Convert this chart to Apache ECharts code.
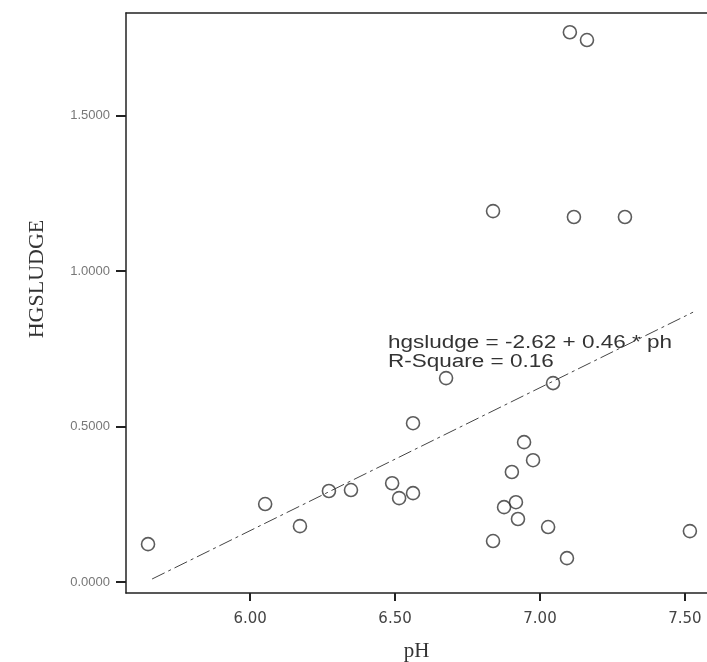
<!DOCTYPE html>
<html>
<head>
<meta charset="utf-8">
<script src="https://cdn.jsdelivr.net/npm/echarts@6/dist/echarts.min.js"></script>
<style>
  html, body { margin: 0; padding: 0; background: #fff; }
  #main { width: 707px; height: 662px; }
</style>
</head>
<body>
<div id="main"></div>
<script>
// 数据
var phValues = [5.648, 6.052, 6.172, 6.272, 6.348, 6.490, 6.514, 6.562, 6.562, 6.676,
                7.045, 6.945, 6.976, 6.903, 6.917, 6.876, 6.924, 7.028, 6.838, 7.093,
                7.517, 7.103, 7.162, 6.838, 7.117, 7.293];
var hgValues = [0.122, 0.251, 0.180, 0.293, 0.296, 0.318, 0.270, 0.286, 0.511, 0.656,
                0.640, 0.450, 0.392, 0.354, 0.257, 0.241, 0.203, 0.177, 0.132, 0.077,
                0.164, 1.768, 1.743, 1.193, 1.174, 1.174];
// 回归线两端
var fitX = [5.662, 7.528];
var fitY = [0.010, 0.868];
var xTicks = [6.0, 6.5, 7.0, 7.5];
var yTicks = [0, 0.5, 1.0, 1.5];

var points = phValues.map(function (x, i) { return [x, hgValues[i]]; });
var fitLine = fitX.map(function (x, i) { return [x, fitY[i]]; });

var chart = echarts.init(document.getElementById('main'));
var option = {
    animation: false,
    grid: { left: 126, top: 13, right: 0, bottom: 69, outerBoundsMode: 'none' },
    xAxis: [{
        type: 'value',
        min: 5.572, max: 7.576,
        name: 'pH',
        nameLocation: 'middle',
        nameGap: 48,
        nameTextStyle: { fontFamily: 'Liberation Serif', fontSize: 21, color: '#333' },
        axisLine: { onZero: false, lineStyle: { color: '#222', width: 1.5 } },
        axisTick: { customValues: xTicks, length: 8, lineStyle: { color: '#222', width: 2 } },
        axisLabel: {
            customValues: xTicks,
            margin: 19,
            fontFamily: 'DejaVu Sans', fontSize: 15, color: '#444',
            formatter: function (v) { return v.toFixed(2); }
        },
        splitLine: { show: false }
    }, {
        type: 'value', position: 'top',
        min: 5.572, max: 7.576,
        axisLine: { show: true, onZero: false, lineStyle: { color: '#222', width: 1.5 } },
        axisTick: { show: false }, axisLabel: { show: false }, splitLine: { show: false }
    }],
    yAxis: {
        type: 'value',
        min: -0.035, max: 1.83,
        name: 'HGSLUDGE',
        nameLocation: 'middle',
        nameGap: 78,
        nameTextStyle: { fontFamily: 'Liberation Serif', fontSize: 22, color: '#333', padding: [0, 0, 0, 48] },
        axisLine: { show: true, onZero: false, lineStyle: { color: '#222', width: 1.5 } },
        axisTick: { customValues: yTicks, length: 10, lineStyle: { color: '#222', width: 2 } },
        axisLabel: {
            customValues: yTicks,
            margin: 16,
            fontFamily: 'Liberation Sans', fontSize: 13, color: '#777',
            formatter: function (v) { return v.toFixed(4); }
        },
        splitLine: { show: false }
    },
    series: [{
        name: '回归线',
        type: 'line',
        data: fitLine,
        symbol: 'none',
        lineStyle: { color: '#444', width: 1, type: [14, 4, 3, 4] }
    }, {
        name: 'HGSLUDGE',
        type: 'scatter',
        data: points,
        symbol: 'circle',
        symbolSize: 13,
        itemStyle: { color: 'rgba(0,0,0,0)', borderColor: '#333', borderWidth: 1.6 }
    }],
    graphic: [{
        type: 'text',
        left: 388, top: 334,
        scaleX: 1.25,
        style: {
            text: 'hgsludge = -2.62 + 0.46 * ph\nR-Square = 0.16',
            font: '18px "Liberation Sans"',
            fill: '#333',
            lineHeight: 19
        }
    }]
};
chart.setOption(option);
</script>
</body>
</html>
